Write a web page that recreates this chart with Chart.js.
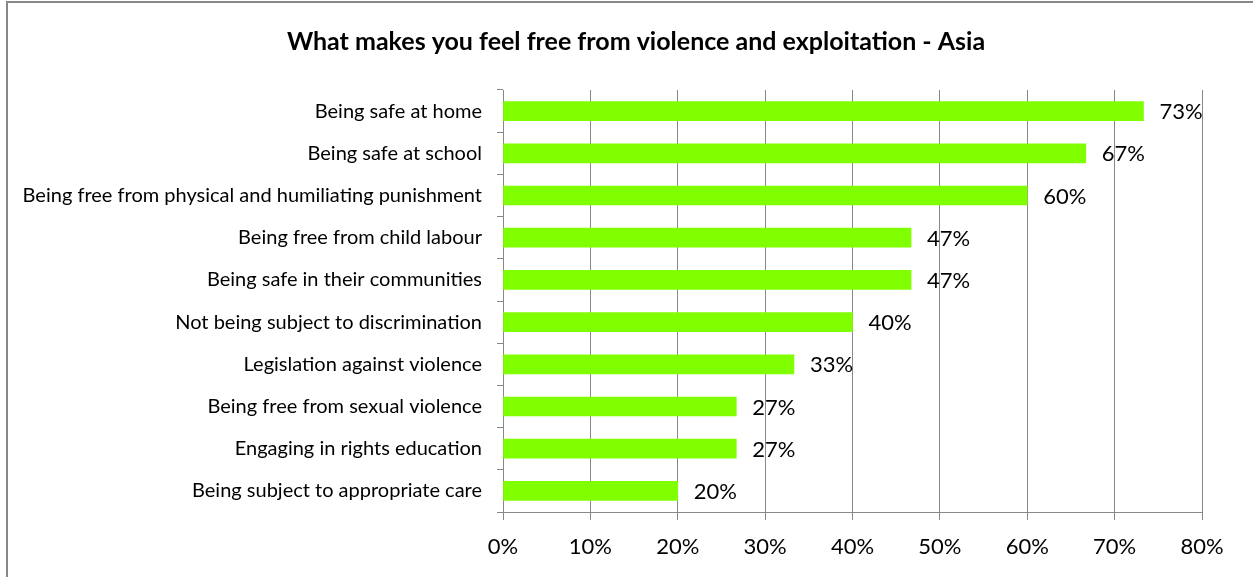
<!DOCTYPE html>
<html>
<head>
<meta charset="utf-8">
<title>What makes you feel free from violence and exploitation - Asia</title>
<script src="https://cdn.jsdelivr.net/npm/chart.js@4/dist/chart.umd.min.js"></script>
<style>
  html, body { margin: 0; padding: 0; background: #ffffff; }
  canvas { display: block; }
</style>
</head>
<body>
<canvas id="asiaChart" width="1253" height="577"></canvas>
<script>
// 項目と割合（%）
var categories = [
  "Being safe at home",
  "Being safe at school",
  "Being free from physical and humiliating punishment",
  "Being free from child labour",
  "Being safe in their communities",
  "Not being subject to discrimination",
  "Legislation against violence",
  "Being free from sexual violence",
  "Engaging in rights education",
  "Being subject to appropriate care",
];
var percentValues = [73.3, 66.7, 60, 46.7, 46.7, 40, 33.3, 26.7, 26.7, 20];
var xTicks = [0, 10, 20, 30, 40, 50, 60, 70, 80];

var chartTitle = "What makes you feel free from violence and exploitation - Asia";
var fontFamily = "Lato, 'Open Sans', 'Liberation Sans', sans-serif";
var gridGray = "#888888";

// 枠線とタイトル
var framePlugin = {
  id: "frame",
  beforeDraw: function (chart) {
    var ctx = chart.ctx;
    ctx.save();
    ctx.fillStyle = "#ffffff";
    ctx.fillRect(0, 0, chart.width, chart.height);
    ctx.strokeStyle = gridGray;
    ctx.lineWidth = 2;
    ctx.strokeRect(7, 2, chart.width + 10, chart.height + 10);
    ctx.fillStyle = "#000000";
    ctx.font = "bold 25px " + fontFamily;
    ctx.textAlign = "center";
    ctx.textBaseline = "middle";
    ctx.fillText(chartTitle, 636, 42);
    ctx.restore();
  },
};

// バーの右に値を表示
var valueLabelPlugin = {
  id: "valueLabels",
  afterDatasetsDraw: function (chart) {
    var ctx = chart.ctx;
    var meta = chart.getDatasetMeta(0);
    ctx.save();
    ctx.fillStyle = "#000000";
    ctx.font = "22px " + fontFamily;
    ctx.textAlign = "left";
    ctx.textBaseline = "middle";
    meta.data.forEach(function (bar, i) {
      ctx.fillText(Math.round(percentValues[i]) + "%", bar.x + 16, bar.y + 1);
    });
    ctx.restore();
  },
};

var asiaChartConfig = {
  type: "bar",
  data: {
    labels: categories,
    datasets: [
      {
        label: "Asia",
        data: percentValues,
        backgroundColor: "#80ff00",
        borderWidth: 0,
        barThickness: 19,
      },
    ],
  },
  options: {
    indexAxis: "y",
    responsive: false,
    animation: false,
    layout: {
      padding: { top: 90, right: 51, left: 0, bottom: 0 },
    },
    plugins: {
      legend: { display: false },
      title: { display: false },
      tooltip: { enabled: false },
    },
    scales: {
      x: {
        min: 0,
        max: 80,
        afterBuildTicks: function (scale) {
          scale.ticks = xTicks.map(function (v) { return { value: v }; });
        },
        afterFit: function (scale) {
          scale.height = 65;
        },
        grid: {
          color: gridGray,
          lineWidth: 1,
          drawTicks: true,
          tickLength: 8,
        },
        border: { color: gridGray, width: 1 },
        ticks: {
          color: "#000000",
          font: { family: fontFamily, size: 22 },
          padding: 14,
          maxRotation: 0,
          callback: function (value) {
            return value + "%";
          },
        },
      },
      y: {
        afterFit: function (scale) {
          scale.width = 503;
        },
        grid: {
          offset: true,
          drawOnChartArea: false,
          drawTicks: true,
          tickLength: 6,
          color: gridGray,
        },
        border: { color: gridGray, width: 1 },
        ticks: {
          color: "#000000",
          font: { family: fontFamily, size: 20 },
          padding: 15,
        },
      },
    },
  },
  plugins: [framePlugin, valueLabelPlugin],
};

var asiaChart = new Chart(document.getElementById("asiaChart"), asiaChartConfig);
</script>
</body>
</html>
